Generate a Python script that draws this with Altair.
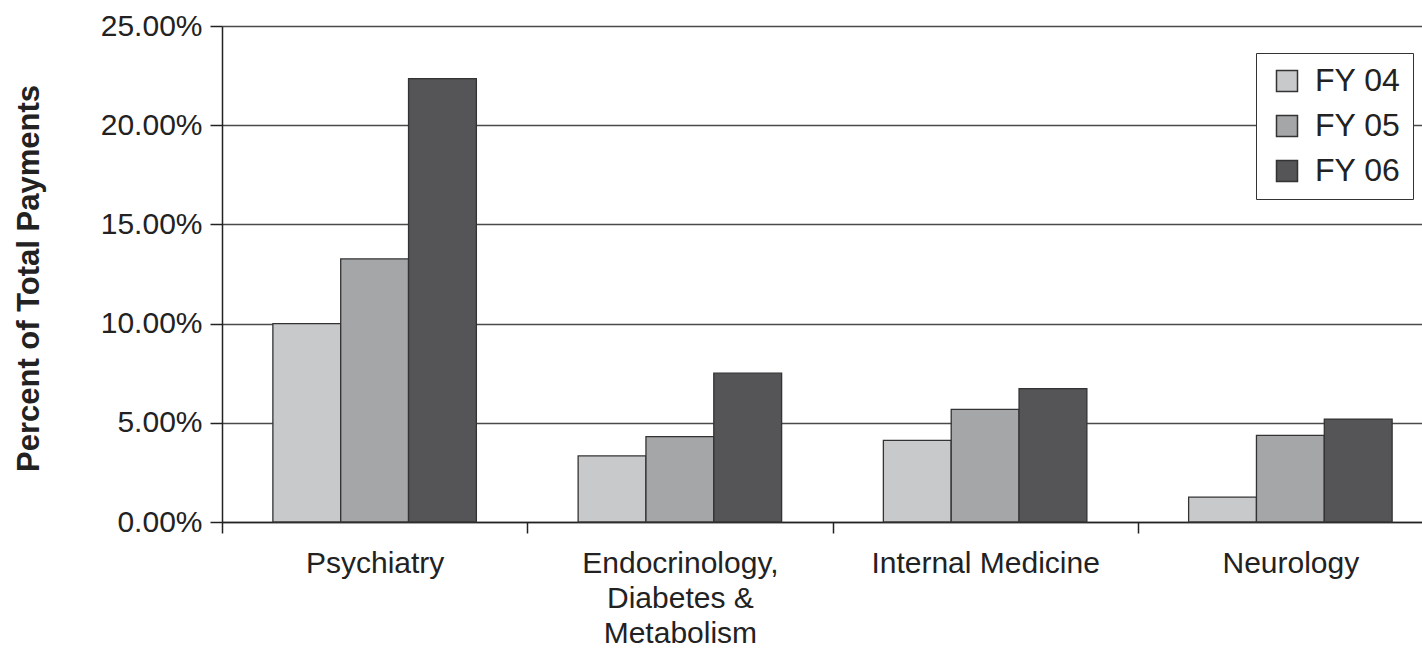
import altair as alt
import pandas as pd

categories = ["Psychiatry", "Endocrinology,\nDiabetes &\nMetabolism", "Internal Medicine", "Neurology"]
years = ["FY 04", "FY 05", "FY 06"]
fy04 = [10.00, 3.33, 4.11, 1.25]
fy05 = [13.26, 4.30, 5.68, 4.37]
fy06 = [22.35, 7.50, 6.72, 5.19]
colors = ["#c8c9cb", "#a5a6a8", "#555558"]
y_ticks = [0, 0.05, 0.10, 0.15, 0.20, 0.25]

rows = []
for series, vals in zip(years, [fy04, fy05, fy06]):
    for c, v in zip(categories, vals):
        rows.append({"Specialty": c, "Year": series, "Share": v / 100})
df = pd.DataFrame(rows)

FONT = "Liberation Sans"
TXT = "#222222"

chart = alt.Chart(df).mark_bar(stroke="#333333", strokeWidth=1.3).encode(
    x=alt.X(
        "Specialty:N", sort=categories, title=None,
        scale=alt.Scale(paddingInner=0, paddingOuter=0, range=[0, 1221]),
        axis=alt.Axis(
            labelAngle=0, labelExpr="split(datum.label, '\\n')",
            labelFont=FONT, labelFontSize=30, labelLineHeight=35, labelColor=TXT,
            labelPadding=15, labelLimit=500, tickSize=11, tickBand="extent",
            tickColor="#222222", tickWidth=1.5, domainColor="#222222", domainWidth=1.5,
            grid=False,
        ),
    ),
    xOffset=alt.XOffset("Year:N", sort=years, scale=alt.Scale(paddingInner=0, paddingOuter=0.75)),
    y=alt.Y(
        "Share:Q", scale=alt.Scale(domain=[0, 0.25], nice=False),
        title="Percent of Total Payments",
        axis=alt.Axis(
            format=".2%", values=y_ticks,
            labelFont=FONT, labelFontSize=30, labelColor=TXT, labelPadding=8,
            tickSize=12, tickColor="#222222", tickWidth=1.5,
            domainColor="#222222", domainWidth=1.5,
            grid=True, gridColor="#4a4a4a", gridWidth=1.5,
            titleFont=FONT, titleFontSize=31, titleFontWeight="bold", titleColor=TXT,
            titleX=-184, titleY=252, titleBaseline="alphabetic",
        ),
    ),
    color=alt.Color(
        "Year:N", sort=years, scale=alt.Scale(domain=years, range=colors),
        legend=alt.Legend(
            title=None, orient="none", legendX=1034, legendY=27, direction="vertical",
            labelFont=FONT, labelFontSize=32, labelColor=TXT,
            symbolType="square", symbolSize=441, symbolStrokeColor="#333333",
            symbolStrokeWidth=1.5, labelOffset=12, rowPadding=13, padding=12,
            symbolOffset=3, strokeColor="#333333", fillColor="white",
        ),
    ),
).properties(
    width=1200, height=496,
    autosize=alt.AutoSizeParams(type="none"),
    padding={"left": 222, "top": 26, "right": 0, "bottom": 128},
).configure_view(stroke=None).configure(background="white")

chart.save("out.html", embed_options={"renderer": "svg", "actions": False})
